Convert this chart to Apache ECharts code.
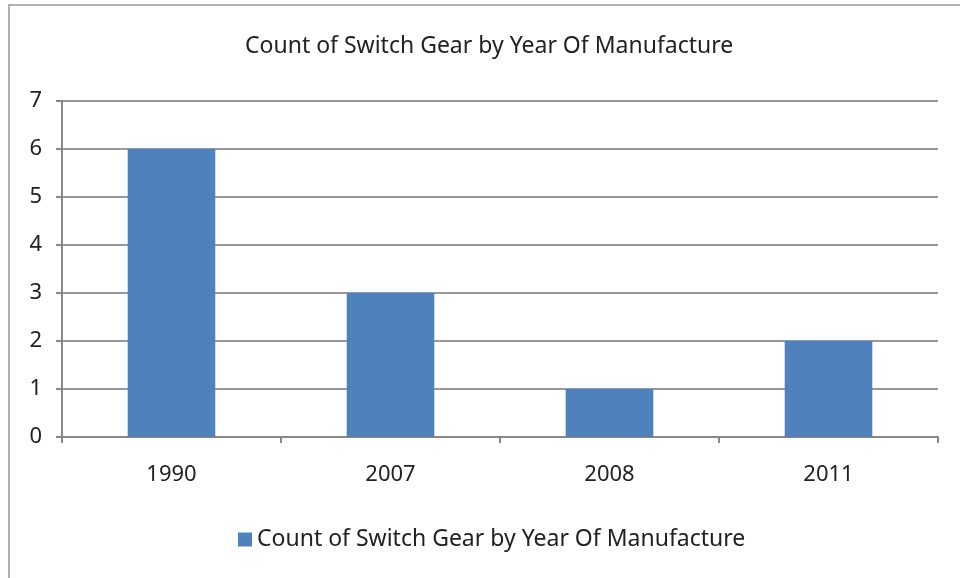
<!DOCTYPE html>
<html>
<head>
<meta charset="utf-8">
<script src="https://cdn.jsdelivr.net/npm/echarts@6/dist/echarts.min.js"></script>
<style>
  html, body { margin: 0; padding: 0; background: #fff; }
  #chart { width: 960px; height: 578px; }
</style>
</head>
<body>
<div id="chart"></div>
<script>
// data
var years = ['1990', '2007', '2008', '2011'];
var counts = [6, 3, 1, 2];
var seriesName = 'Count of Switch Gear by Year Of Manufacture';

var chart = echarts.init(document.getElementById('chart'));
var font = 'Noto Sans';

chart.setOption({
  animation: false,
  textStyle: { fontFamily: font },
  graphic: [{
    type: 'rect',
    shape: { x: 9, y: 5, width: 1000, height: 1000 },
    style: { fill: 'none', stroke: '#b0b0b0', lineWidth: 2 }
  }],
  title: {
    text: seriesName,
    left: 240,
    top: 30,
    textStyle: { fontFamily: font, fontSize: 23, fontWeight: 'normal', color: '#222' }
  },
  legend: {
    data: [seriesName],
    bottom: 22,
    left: 233,
    icon: 'rect',
    itemWidth: 14,
    itemHeight: 14,
    itemGap: 8,
    textStyle: { fontFamily: font, fontSize: 23, color: '#222' }
  },
  grid: { left: 62, right: 22, top: 101, bottom: 141 },
  xAxis: {
    type: 'category',
    data: years,
    axisLine: { lineStyle: { color: '#888', width: 2 } },
    axisTick: { show: true, length: 6, alignWithLabel: false, lineStyle: { color: '#888', width: 2 } },
    axisLabel: { fontFamily: font, fontSize: 22, color: '#222', margin: 27 }
  },
  yAxis: {
    type: 'value',
    min: 0,
    max: 7,
    interval: 1,
    axisLine: { show: true, lineStyle: { color: '#888', width: 2 } },
    axisTick: { show: true, length: 6, lineStyle: { color: '#888', width: 2 } },
    axisLabel: { fontFamily: font, fontSize: 22, color: '#222', margin: 20 },
    splitLine: { lineStyle: { color: '#999', width: 2 } }
  },
  series: [{
    name: seriesName,
    type: 'bar',
    data: counts,
    barWidth: '40%',
    itemStyle: { color: '#4F81BD' }
  }]
});
</script>
</body>
</html>
